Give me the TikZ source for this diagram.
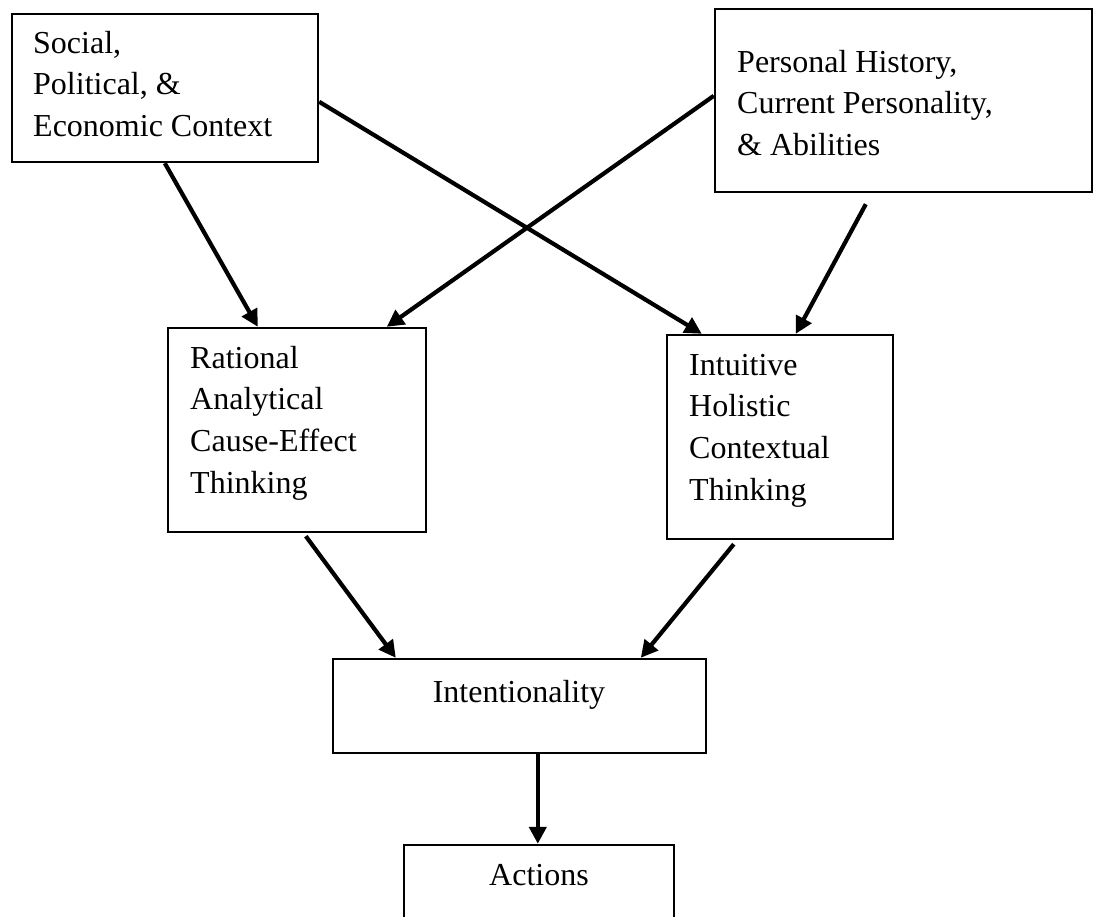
\documentclass[tikz,border=0pt]{standalone}
\usepackage{fontspec}
\setmainfont{Liberation Serif}
\usetikzlibrary{arrows.meta}
\begin{document}
\begin{tikzpicture}[x=1pt,y=-1pt,
  box/.style={draw, line width=2.4pt, inner sep=0pt},
  lbl/.style={inner sep=0pt, font=\fontsize{32}{41.8}\selectfont},
  flow/.style={line width=4.2pt, -{Triangle[length=17pt,width=17pt]}}]
\useasboundingbox (0,0) rectangle (1095,916);
\clip (0,0) rectangle (1095,916);
\fill[white] (0,0) rectangle (1095,916);

% boxes
\node[box, minimum width=306pt, minimum height=148pt] (ctx) at (165,88) {};
\node[box, minimum width=377pt, minimum height=183pt] (pers) at (903.5,100.5) {};
\node[box, minimum width=258pt, minimum height=204pt] (rat) at (297,430) {};
\node[box, minimum width=226pt, minimum height=204pt] (intu) at (780,437) {};
\node[box, minimum width=373pt, minimum height=94pt] (intent) at (519.5,706) {};
\node[box, minimum width=270pt, minimum height=95pt] (act) at (539,892.5) {};

% box texts
\node[lbl, anchor=base west] (ctxlbl) at (33,53)
  {\begin{tabular}[t]{@{}l@{}}Social,\\Political, \&\\Economic Context\end{tabular}};
\node[lbl, anchor=base west] (perslbl) at (737,72)
  {\begin{tabular}[t]{@{}l@{}}Personal History,\\Current Personality,\\\& Abilities\end{tabular}};
\node[lbl, anchor=base west] (ratlbl) at (190,368)
  {\begin{tabular}[t]{@{}l@{}}Rational\\Analytical\\Cause-Effect\\Thinking\end{tabular}};
\node[lbl, anchor=base west] (intulbl) at (689,375)
  {\begin{tabular}[t]{@{}l@{}}Intuitive\\Holistic\\Contextual\\Thinking\end{tabular}};
\node[lbl, anchor=base] (intentlbl) at (519,702) {Intentionality};
\node[lbl, anchor=base] (actlbl) at (539,885) {Actions};

% connectors
\draw[flow] ([xshift=154pt]ctx.south west) -- ([xshift=91pt]rat.north west);
\draw[flow] ([yshift=-89pt]ctx.north east) -- ([xshift=36pt]intu.north west);
\draw[flow] ([yshift=-88pt]pers.north west) -- ([xshift=220pt]rat.north west);
\draw[flow] ([xshift=152pt,yshift=-11pt]pers.south west) -- ([xshift=130pt]intu.north west);
\draw[flow] ([xshift=139pt,yshift=-3pt]rat.south west) -- ([xshift=64pt]intent.north west);
\draw[flow] ([xshift=68pt,yshift=-4pt]intu.south west) -- ([xshift=309pt]intent.north west);
\draw[flow] ([xshift=206pt]intent.south west) -- ([xshift=135pt]act.north west);
\end{tikzpicture}
\end{document}
